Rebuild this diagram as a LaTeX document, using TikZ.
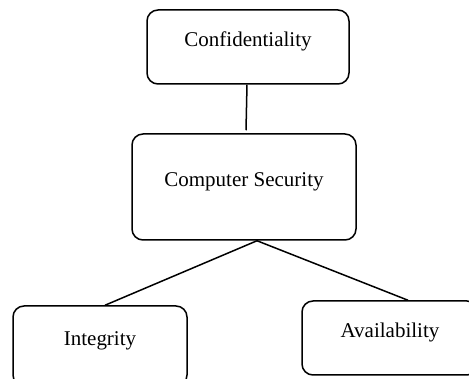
\documentclass[tikz,border=0pt]{standalone}
\usepackage{fontspec}
\setmainfont{Liberation Serif}
\usetikzlibrary{positioning}

\tikzset{every picture/.style={line width=1.5pt}}
\tikzset{
  secbox/.style={draw, rounded corners=11pt, inner xsep=0pt, inner ysep=0pt,
    text height=8pt, text depth=8pt, font=\fontsize{21}{25}\selectfont},
  link/.style={line width=1.5pt}
}

\begin{document}
\begin{tikzpicture}[x=1pt,y=1pt,yscale=-1,xscale=1]
\useasboundingbox (0,0) rectangle (469,379);
\clip (0,0) rectangle (469,379);

% Boxes
\node[secbox, minimum width=202pt, minimum height=74pt] (conf) at (248,47) {Confidentiality};
\node[secbox, minimum width=224pt, minimum height=106pt] (csec) at (244,187) {Computer Security};
\node[secbox, minimum width=174pt, minimum height=80pt] (integ) at (100,346) {Integrity};
\node[secbox, minimum width=176pt, minimum height=74pt] (avail) at (390,338) {Availability};

% Connectors
\coordinate (fork) at ([xshift=13pt]csec.south);
\draw[link] ([xshift=-1pt]conf.south) -- ([xshift=2pt,yshift=-3pt]csec.north);
\draw[link] (fork) -- ([xshift=5pt]integ.north);
\draw[link] (fork) -- ([xshift=18pt]avail.north);

\end{tikzpicture}
\end{document}
